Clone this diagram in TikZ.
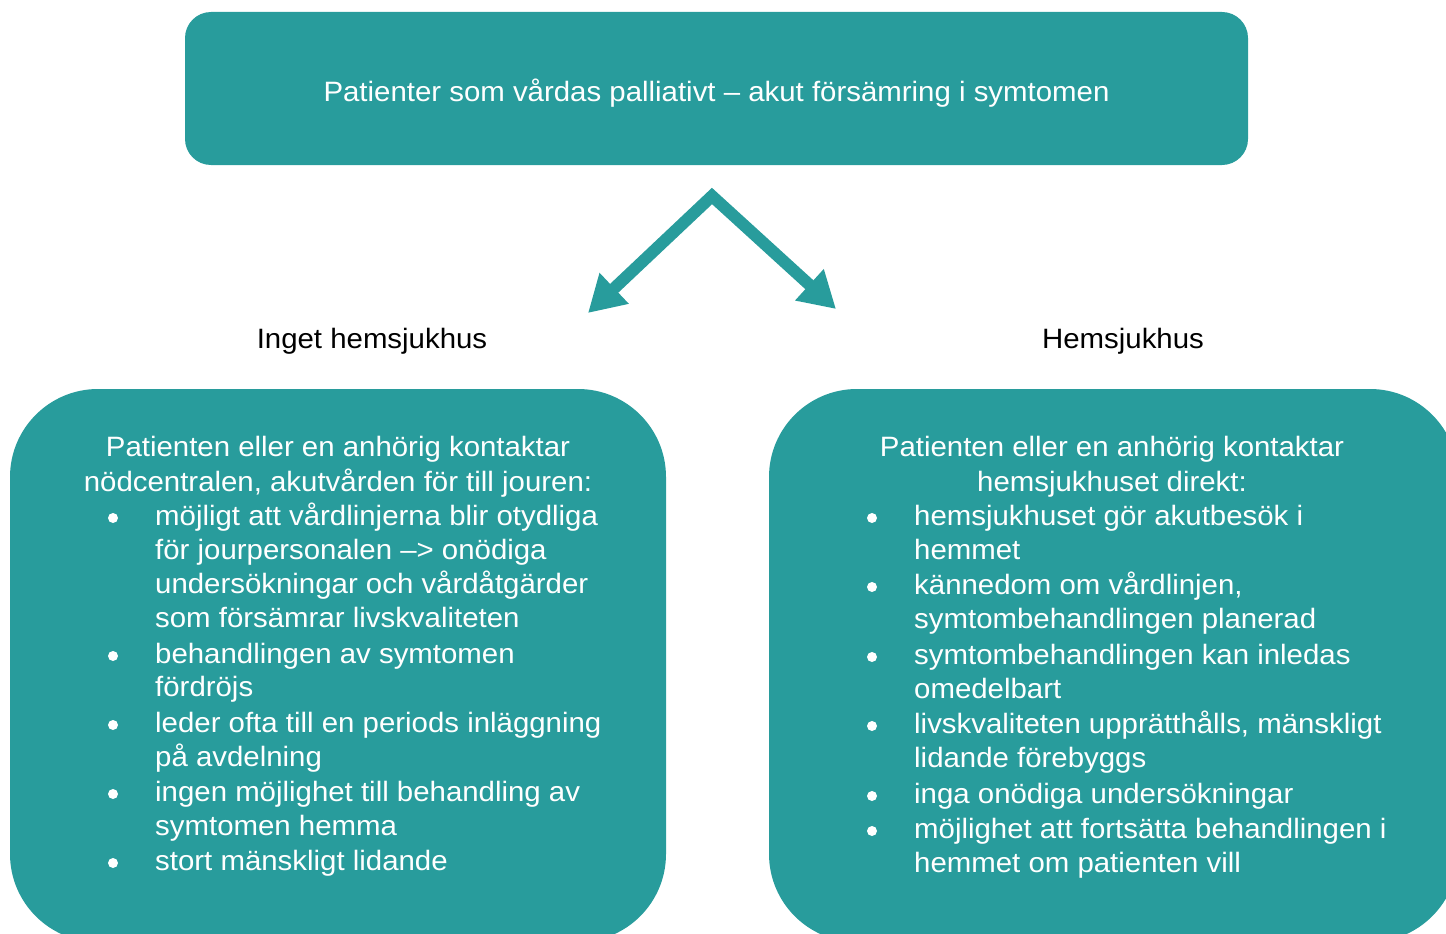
\documentclass[tikz,border=0pt]{standalone}
\usepackage{fontspec}
\setmainfont{Liberation Sans}[FakeStretch=1.05]
\usetikzlibrary{arrows.meta}
\definecolor{panelteal}{HTML}{289C9C}
\begin{document}
\begin{tikzpicture}[x=1pt,y=-1pt,
  panel/.style={fill=panelteal, draw=none, inner sep=0pt},
  txt/.style={font=\fontsize{28}{34}\selectfont, text=white, inner sep=0pt},
  lbl/.style={font=\fontsize{28}{34}\selectfont, text=black, inner sep=0pt},
  dot/.style={fill=white, draw=none}]
\useasboundingbox (0,0) rectangle (1446,934);
\clip (0,0) rectangle (1446,934);

% panels
\node[panel, rounded corners=26pt, minimum width=1063pt, minimum height=153pt] (top) at (716.5,88.5) {};
\node[panel, rounded corners=88pt, minimum width=656pt, minimum height=553pt] (left) at (338,665.5) {};
\node[panel, rounded corners=88pt, minimum width=689pt, minimum height=553pt] (right) at (1113.5,665.5) {};

\node[txt, anchor=base] (topText) at (716.5,101) {Patienter som vårdas palliativt – akut försämring i symtomen};

% branching arrow
\coordinate (apex) at (712,196);
\coordinate (tipL) at (588,313);
\coordinate (tipR) at (836,309);
\draw[panelteal, line width=12pt, line join=miter, miter limit=10,
  {Triangle[length=36pt,width=40pt]}-{Triangle[length=36pt,width=40pt]}] (tipL) -- (apex) -- (tipR);

% branch labels
\node[lbl, anchor=base] (noHosp) at (372,348) {Inget hemsjukhus};
\node[lbl, anchor=base] (hosp) at (1123,348) {Hemsjukhus};

% left panel text
\node[txt, anchor=base] (lh1) at (338,456) {Patienten eller en anhörig kontaktar};
\node[txt, anchor=base] (lh2) at (338,491) {nödcentralen, akutvården för till jouren:};
\foreach \y in {525,663,732,801,870} \fill[dot] (113,\y-7) circle (5pt);
\node[txt, anchor=base west] (l1a) at (155,525) {möjligt att vårdlinjerna blir otydliga};
\node[txt, anchor=base west] (l1b) at (155,559) {för jourpersonalen –> onödiga};
\node[txt, anchor=base west] (l1c) at (155,593) {undersökningar och vårdåtgärder};
\node[txt, anchor=base west] (l1d) at (155,627) {som försämrar livskvaliteten};
\node[txt, anchor=base west] (l2a) at (155,663) {behandlingen av symtomen};
\node[txt, anchor=base west] (l2b) at (155,696) {fördröjs};
\node[txt, anchor=base west] (l3a) at (155,732) {leder ofta till en periods inläggning};
\node[txt, anchor=base west] (l3b) at (155,766) {på avdelning};
\node[txt, anchor=base west] (l4a) at (155,801) {ingen möjlighet till behandling av};
\node[txt, anchor=base west] (l4b) at (155,835) {symtomen hemma};
\node[txt, anchor=base west] (l5a) at (155,870) {stort mänskligt lidande};

% right panel text
\node[txt, anchor=base] (rh1) at (1112,456) {Patienten eller en anhörig kontaktar};
\node[txt, anchor=base] (rh2) at (1112,491) {hemsjukhuset direkt:};
\foreach \y in {525,594,664,733,803,838} \fill[dot] (872,\y-7) circle (5pt);
\node[txt, anchor=base west] (r1a) at (914,525) {hemsjukhuset gör akutbesök i};
\node[txt, anchor=base west] (r1b) at (914,559) {hemmet};
\node[txt, anchor=base west] (r2a) at (914,594) {kännedom om vårdlinjen,};
\node[txt, anchor=base west] (r2b) at (914,628) {symtombehandlingen planerad};
\node[txt, anchor=base west] (r3a) at (914,664) {symtombehandlingen kan inledas};
\node[txt, anchor=base west] (r3b) at (914,698) {omedelbart};
\node[txt, anchor=base west] (r4a) at (914,733) {livskvaliteten upprätthålls, mänskligt};
\node[txt, anchor=base west] (r4b) at (914,767) {lidande förebyggs};
\node[txt, anchor=base west] (r5a) at (914,803) {inga onödiga undersökningar};
\node[txt, anchor=base west] (r6a) at (914,838) {möjlighet att fortsätta behandlingen i};
\node[txt, anchor=base west] (r6b) at (914,872) {hemmet om patienten vill};
\end{tikzpicture}
\end{document}
